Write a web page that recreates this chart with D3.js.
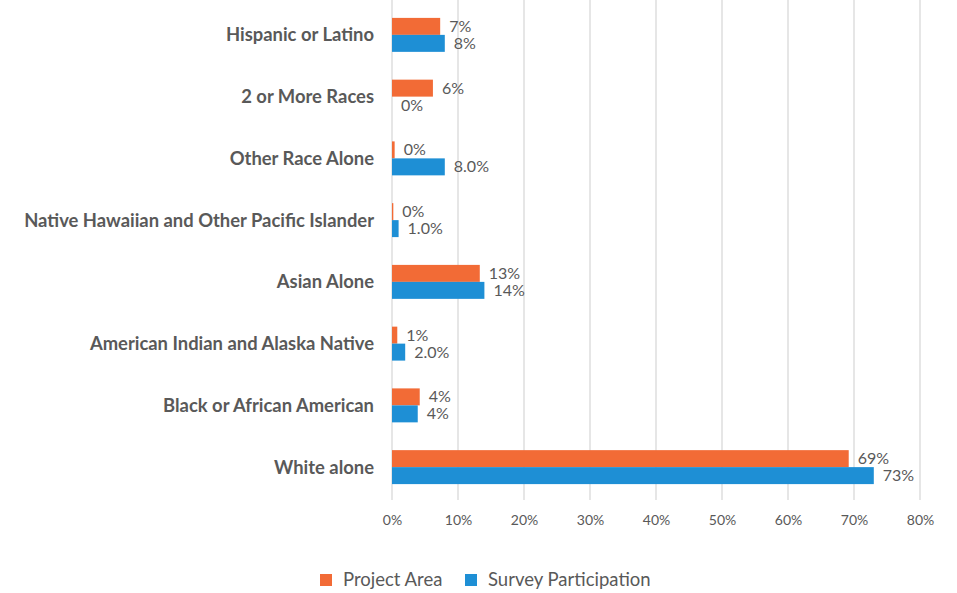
<!DOCTYPE html>
<html><head><meta charset="utf-8">
<script src="https://cdn.jsdelivr.net/npm/d3@7"></script>
<style>body{margin:0;background:#fff;} svg{display:block;}</style>
</head><body>
<svg id="c" width="957" height="593"></svg>
<script>
const categories = ["Hispanic or Latino","2 or More Races","Other Race Alone","Native Hawaiian and Other Pacific Islander","Asian Alone","American Indian and Alaska Native","Black or African American","White alone"];
const projectArea = [7.3, 6.2, 0.4, 0.2, 13.3, 0.8, 4.2, 69.2];
const surveyParticipation = [8.0, 0, 8.0, 1.0, 14.0, 2.0, 3.9, 73.0];
const projectLabels = ["7%","6%","0%","0%","13%","1%","4%","69%"];
const surveyLabels = ["8%","0%","8.0%","1.0%","14%","2.0%","4%","73%"];
const seriesNames = ["Project Area","Survey Participation"];
const xTicks = [0,10,20,30,40,50,60,70,80];

(function(){
const svg = d3.select("#c");
const font = "Lato, 'Open Sans', sans-serif";
const colors = ["#F26B36", "#1E8FD5"];
const mLeft = 392, mRight = 920, mTop = 4, mBottom = 498;
const x = d3.scaleLinear().domain([0,80]).range([mLeft,mRight]);
const y = d3.scaleBand().domain(categories).range([mTop,mBottom]).paddingInner(0.45).paddingOuter(0.225);
const sub = d3.scaleBand().domain(seriesNames).range([0,y.bandwidth()]);

svg.append("g").selectAll("line").data(xTicks).join("line")
  .attr("x1",d=>x(d)).attr("x2",d=>x(d)).attr("y1",0).attr("y2",mBottom+2)
  .attr("stroke","#d9d9d9").attr("stroke-width",1.3);

const ax = svg.append("g").attr("transform",`translate(0,${mBottom})`)
  .call(d3.axisBottom(x).tickValues(xTicks).tickFormat(d=>d+"%").tickSize(0).tickPadding(17));
ax.select(".domain").remove();
ax.selectAll("text").attr("font-family",font).attr("font-size",14).attr("fill","#595959");

const yax = svg.append("g").attr("transform",`translate(${mLeft-18},0)`)
  .call(d3.axisLeft(y).tickSize(0).tickPadding(0));
yax.select(".domain").remove();
yax.selectAll("text").attr("font-family",font).attr("font-size",18.4).attr("font-weight","bold").attr("fill","#595959").attr("dy","0.35em");

const series = [projectArea, surveyParticipation];
const labels = [projectLabels, surveyLabels];
series.forEach((vals, si) => {
  const g = svg.append("g");
  g.selectAll("rect").data(categories).join("rect")
    .attr("x", x(0))
    .attr("y", (c)=> y(c) + sub(seriesNames[si]))
    .attr("width", (c,i)=> x(vals[i]) - x(0))
    .attr("height", sub.bandwidth())
    .attr("fill", colors[si]);
  g.selectAll("text").data(categories).join("text")
    .attr("x", (c,i)=> x(vals[i]) + 9)
    .attr("y", (c)=> y(c) + sub(seriesNames[si]) + sub.bandwidth()/2)
    .attr("dy","0.35em")
    .attr("font-family",font).attr("font-size",16).attr("fill","#595959")
    .text((c,i)=>labels[si][i]);
});

const leg = svg.append("g");
const legX = [320, 465];
seriesNames.forEach((n,i)=>{
  leg.append("rect").attr("x",legX[i]).attr("y",574).attr("width",12).attr("height",12).attr("fill",colors[i]);
  leg.append("text").attr("x",legX[i]+23).attr("y",580).attr("dy","0.35em")
    .attr("font-family",font).attr("font-size",18.5).attr("fill","#595959").text(n);
});
})();
</script>
</body></html>
